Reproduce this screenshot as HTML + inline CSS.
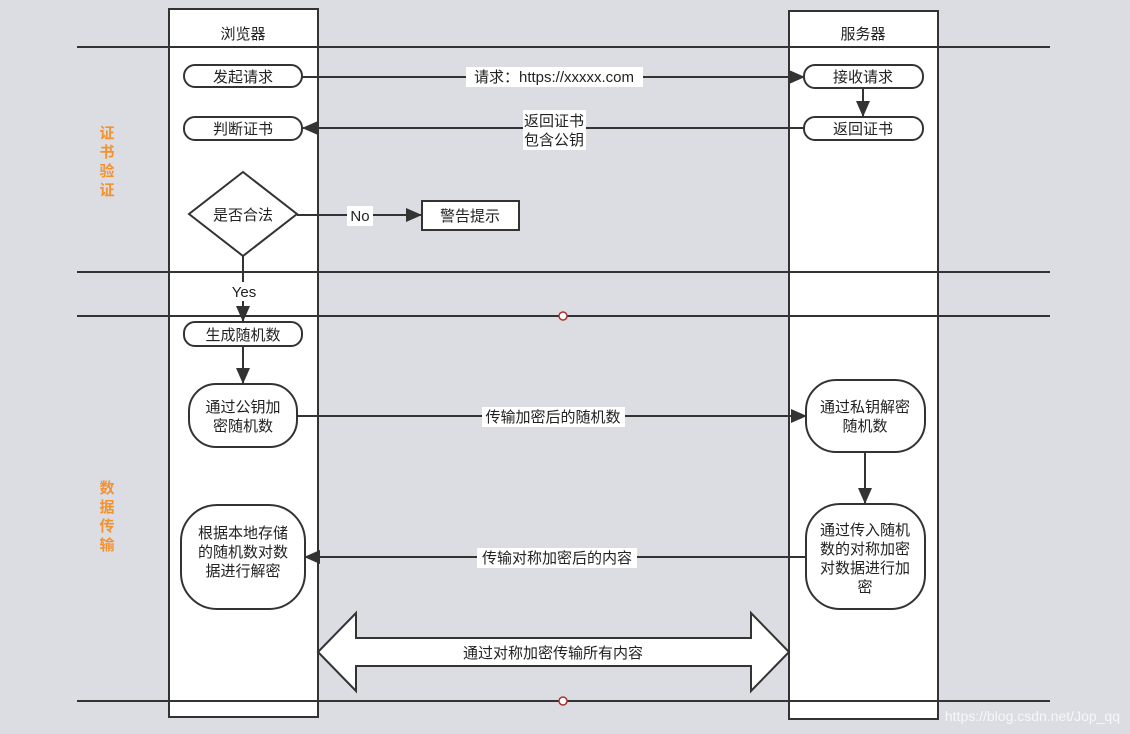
<!DOCTYPE html>
<html><head><meta charset="utf-8"><style>
html,body{margin:0;padding:0;background:#dcdde2;}
svg{display:block;}
text{font-family:"Liberation Sans","Noto Sans CJK SC",sans-serif;font-size:15px;fill:#222;}
</style></head><body>
<svg width="1130" height="734" viewBox="0 0 1130 734" xmlns="http://www.w3.org/2000/svg">
<defs>
<marker id="a" markerWidth="10" markerHeight="10" refX="9" refY="5" orient="auto" markerUnits="userSpaceOnUse"><path d="M0,0 L10,5 L0,10 Z" fill="#333"/></marker>
<marker id="b" markerWidth="16" markerHeight="14" refX="15" refY="7" orient="auto" markerUnits="userSpaceOnUse"><path d="M0,0 L16,7 L0,14 Z" fill="#333"/></marker>
</defs>
<rect width="1130" height="734" fill="#dcdde2"/>
<rect x="169" y="9" width="149" height="708" fill="#fff" stroke="#333" stroke-width="2"/>
<rect x="789" y="11" width="149" height="708" fill="#fff" stroke="#333" stroke-width="2"/>
<text x="243" y="39" text-anchor="middle">浏览器</text>
<text x="863" y="39" text-anchor="middle">服务器</text>
<g stroke="#333" stroke-width="2">
<line x1="77" y1="47" x2="1050" y2="47"/>
<line x1="77" y1="272" x2="1050" y2="272"/>
<line x1="77" y1="316" x2="1050" y2="316"/>
<line x1="77" y1="701" x2="1050" y2="701"/>
</g>
<circle cx="563" cy="316" r="4" fill="#fff" stroke="#a33" stroke-width="1.5"/>
<circle cx="563" cy="701" r="4" fill="#fff" stroke="#a33" stroke-width="1.5"/>
<g text-anchor="middle">
<text x="107" y="138" style="fill:#f39230;font-weight:bold">证</text>
<text x="107" y="157" style="fill:#f39230;font-weight:bold">书</text>
<text x="107" y="176" style="fill:#f39230;font-weight:bold">验</text>
<text x="107" y="195" style="fill:#f39230;font-weight:bold">证</text>
<text x="107" y="493" style="fill:#f39230;font-weight:bold">数</text>
<text x="107" y="512" style="fill:#f39230;font-weight:bold">据</text>
<text x="107" y="531" style="fill:#f39230;font-weight:bold">传</text>
<text x="107" y="550" style="fill:#f39230;font-weight:bold">输</text>
</g>
<g stroke="#333" stroke-width="2" fill="none">
<line x1="302" y1="77" x2="804" y2="77" marker-end="url(#b)"/>
<line x1="804" y1="128" x2="303" y2="128" marker-end="url(#b)"/>
<line x1="863" y1="88" x2="863" y2="116" marker-end="url(#b)"/>
<line x1="297" y1="215" x2="421" y2="215" marker-end="url(#b)"/>
<line x1="243" y1="256" x2="243" y2="321" marker-end="url(#b)"/>
<line x1="243" y1="346" x2="243" y2="383" marker-end="url(#b)"/>
<line x1="297" y1="416" x2="806" y2="416" marker-end="url(#b)"/>
<line x1="865" y1="452" x2="865" y2="503" marker-end="url(#b)"/>
<line x1="806" y1="557" x2="305" y2="557" marker-end="url(#b)"/>
</g>
<g stroke="#333" stroke-width="2" fill="#fff">
<rect x="184" y="65" width="118" height="22" rx="11"/>
<rect x="184" y="117" width="118" height="23" rx="11"/>
<rect x="804" y="65" width="119" height="23" rx="11"/>
<rect x="804" y="117" width="119" height="23" rx="11"/>
<polygon points="243,172 297,214 243,256 189,214"/>
<rect x="422" y="201" width="97" height="29"/>
<rect x="184" y="322" width="118" height="24" rx="11"/>
<rect x="189" y="384" width="108" height="63" rx="27"/>
<rect x="806" y="380" width="119" height="72" rx="30"/>
<rect x="806" y="504" width="119" height="105" rx="34"/>
<rect x="181" y="505" width="124" height="104" rx="36"/>
<polygon points="318,652 356,613 356,638 751,638 751,613 789,652 751,691 751,666 356,666 356,691"/>
</g>
<g text-anchor="middle">
<text x="243" y="82">发起请求</text>
<text x="243" y="134">判断证书</text>
<text x="863" y="82">接收请求</text>
<text x="863" y="134">返回证书</text>
<text x="243" y="220">是否合法</text>
<text x="470" y="221">警告提示</text>
<text x="243" y="340">生成随机数</text>
<text x="243" y="412">通过公钥加</text>
<text x="243" y="431">密随机数</text>
<text x="865" y="412">通过私钥解密</text>
<text x="865" y="431">随机数</text>
<text x="865" y="535">通过传入随机</text>
<text x="865" y="554">数的对称加密</text>
<text x="865" y="573">对数据进行加</text>
<text x="865" y="592">密</text>
<text x="243" y="538">根据本地存储</text>
<text x="243" y="557">的随机数对数</text>
<text x="243" y="576">据进行解密</text>
<text x="553" y="658">通过对称加密传输所有内容</text>
</g>
<rect x="466" y="67" width="177" height="20" fill="#fff"/>
<text x="554" y="82" text-anchor="middle">请求：https://xxxxx.com</text>
<rect x="523" y="110" width="63" height="40" fill="#fff"/>
<text x="554" y="126" text-anchor="middle">返回证书</text>
<text x="554" y="145" text-anchor="middle">包含公钥</text>
<rect x="347" y="206" width="26" height="20" fill="#fff"/>
<text x="360" y="221" text-anchor="middle">No</text>
<rect x="230" y="282" width="28" height="19" fill="#fff"/>
<text x="244" y="297" text-anchor="middle">Yes</text>
<rect x="482" y="407" width="143" height="20" fill="#fff"/>
<text x="553" y="422" text-anchor="middle">传输加密后的随机数</text>
<rect x="477" y="548" width="160" height="20" fill="#fff"/>
<text x="557" y="563" text-anchor="middle">传输对称加密后的内容</text>
<text x="1120" y="721" text-anchor="end" style="fill:#fff;fill-opacity:0.75;font-size:14px">https://blog.csdn.net/Jop_qq</text>
</svg>
</body></html>
